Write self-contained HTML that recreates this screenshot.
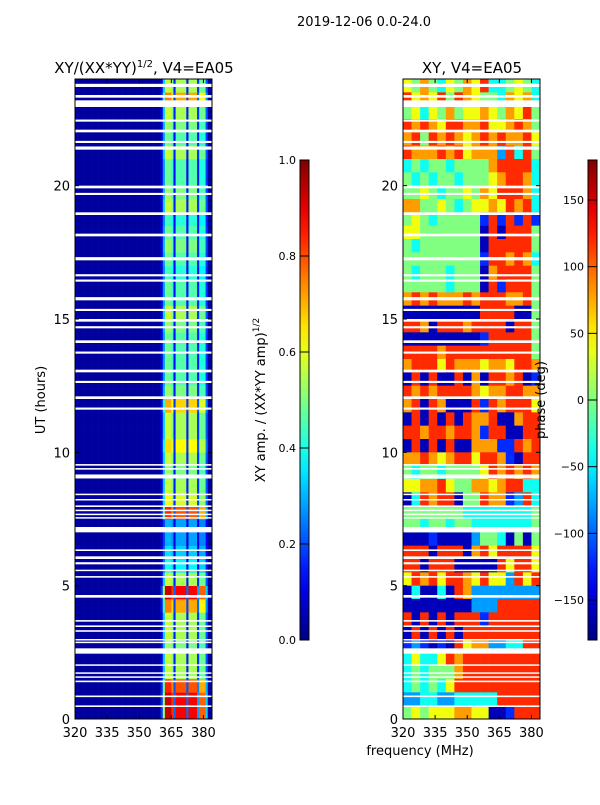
<!DOCTYPE html>
<html><head><meta charset="utf-8">
<style>
body{margin:0;background:#fff;font-family:"Liberation Sans","DejaVu Sans",sans-serif;}
svg text{font-family:"DejaVu Sans","Liberation Sans",sans-serif;}
</style></head>
<body>
<svg id="fig" width="600" height="800" xmlns="http://www.w3.org/2000/svg">
<rect x="0" y="0" width="600" height="800" fill="#fff"/>
<text x="364" y="26" font-size="13" text-anchor="middle">2019-12-06 0.0-24.0</text>
<text x="144" y="73" font-size="15" text-anchor="middle">XY/(XX*YY)<tspan font-size="10" dy="-6">1/2</tspan><tspan dy="6">, V4=EA05</tspan></text>
<text x="472" y="73" font-size="15" text-anchor="middle">XY, V4=EA05</text>
<g id="left"></g>
<g id="right"></g>
<g id="axes"></g>
<text transform="translate(45,400) rotate(-90)" font-size="13" text-anchor="middle">UT (hours)</text>
<text transform="translate(265,400) rotate(-90)" font-size="13" text-anchor="middle">XY amp. / (XX*YY amp)<tspan font-size="9" dy="-6">1/2</tspan></text>
<text transform="translate(545,400) rotate(-90)" font-size="13" text-anchor="middle">phase (deg)</text>
<text x="420" y="755" font-size="13" text-anchor="middle">frequency (MHz)</text>
</svg>
<script>
// ---- data ----
const freqTicks = [320,335,350,365,380];
const timeTicks = [0,5,10,15,20];
const ampTicks = [0.0,0.2,0.4,0.6,0.8,1.0];
const phaseTicks = [-150,-100,-50,0,50,100,150];
// amplitude: per-1MHz channel profile (320..383) and per-0.5h row level (0h upward)
const chanProfile = [0.02,0.02,0.02,0.02,0.02,0.02,0.02,0.02,0.02,0.02,0.02,0.02,0.02,0.02,0.02,0.02,0.02,0.02,0.02,0.02,
 0.02,0.02,0.02,0.02,0.02,0.02,0.02,0.02,0.02,0.02,0.02,0.02,0.02,0.02,0.02,0.02,0.02,0.02,0.02,0.02,
 0.15,0.5,0.9,0.9,0.9,0.8,0.2,0.85,0.85,0.85,0.85,0.85,0.2,0.85,0.85,0.85,0.85,0.25,0.75,0.75,0.75,0.3,0.02,0.02];
const rowLevel = [1.0,1.0,0.9,0.6,0.6,0.55,0.6,0.6,0.8,1.0,0.6,0.4,0.35,0.3,0.3,0.9,
 0.65,0.6,0.55,0.6,0.7,0.6,0.6,0.75,0.55,0.5,0.5,0.5,0.5,0.55,
 0.6,0.5,0.5,0.45,0.5,0.55,0.5,0.45,0.6,0.55,0.5,0.5,0.6,0.5,0.55,0.6,0.8,0.6];
// phase: rows of 4MHz columns, top (23.5h) to bottom (0h); digit 0..8 => -160..160 deg
const phaseRows = [
"5464354657334543","7565747654436563","4535464556546574","7676577667556764",
"6747676567676675","7666767566627374","3434434444677773","4343443444567763",
"4454344546577763","6644543455657673","4543444441717171","5544444440707774",
"4344444440777774","4444444441776763","4344434440677774","4444434440717774",
"6767666767776674","0000000007777004","7760777677770774","0000000001777774",
"7777677777777774","6777576665665776","0707007060776701","7676777765667766",
"6707600071767775","0707070766700677","7767767761770077","0707070066611767",
"6676567757761077","4344344445767676","5566754466567733","0376770447661273",
"4444444333333334","4434434433333334","0001000024430404","7770777067577775",
"7707770000075775","5767577657552757","0300307622222222","0000000022277777",
"7070707771777777","0707070777777777","1210107566223377","3533576777777777",
"3434446777777777","3434357777777777","2233223333377777","4545556655001777"];
// flagged (blank) time ranges: [start hour, duration hour]
const flags = [[23.7,0.12],[23.3,0.1],[22.95,0.25],[22.4,0.08],[22.0,0.1],[21.6,0.08],[21.35,0.12],[19.9,0.1],[19.65,0.08],
 [18.9,0.1],[18.1,0.1],[17.2,0.12],[16.6,0.08],[16.4,0.08],[15.7,0.12],[15.3,0.08],[14.9,0.1],[14.65,0.08],[14.1,0.1],
 [13.7,0.08],[13.0,0.1],[12.6,0.08],[12.0,0.1],[11.6,0.08],[9.5,0.06],[9.35,0.06],[9.02,0.15],[8.4,0.05],[8.2,0.05],
 [7.95,0.06],[7.8,0.05],[7.65,0.05],[7.52,0.05],[7.0,0.2],[6.3,0.06],[6.0,0.1],[5.8,0.08],[5.55,0.05],[5.3,0.06],
 [4.55,0.1],[3.65,0.06],[3.45,0.06],[3.27,0.06],[2.95,0.05],[2.85,0.05],[2.45,0.2],[2.0,0.05],[1.7,0.05],[1.55,0.05],
 [1.38,0.06],[0.82,0.06],[0.45,0.06]];

// ---- scales ----
const T0=719, T1=79, fMin=320, fMax=384;
const yT = t => T0 - (t/24)*(T0-T1);
const xL = f => 75 + (f-fMin)/(fMax-fMin)*137;
const xR = f => 403 + (f-fMin)/(fMax-fMin)*137;
function jet(v){v=Math.max(0,Math.min(1,v));
 const r=Math.min(1,Math.max(0,1.5-Math.abs(4*v-3))),g=Math.min(1,Math.max(0,1.5-Math.abs(4*v-2))),b=Math.min(1,Math.max(0,1.5-Math.abs(4*v-1)));
 return `rgb(${Math.round(r*255)},${Math.round(g*255)},${Math.round(b*255)})`;}
const NS='http://www.w3.org/2000/svg';
function mk(tag,attrs,parent){const e=document.createElementNS(NS,tag);for(const k in attrs)e.setAttribute(k,attrs[k]);parent.appendChild(e);return e;}

const L=document.getElementById('left'), R=document.getElementById('right'), A=document.getElementById('axes');
// amplitude cells
rowLevel.forEach((lv,r)=>{chanProfile.forEach((p,c)=>{
 const v=Math.min(1,0.03+lv*(p>0.05?p:0));
 const x0=xL(fMin+c), x1=xL(fMin+c+1), y0=yT((r+1)*0.5), y1=yT(r*0.5);
 const el=mk('rect',{x:x0,y:y0,width:x1-x0+0.3,height:y1-y0+0.3,fill:jet(v)},L);
 
 
});});
// phase cells
phaseRows.forEach((row,i)=>{const tTop=24-i*0.5;
 for(let c=0;c<row.length;c++){const d=+row[c];const ph=-160+d*40;
  const x0=xR(fMin+c*4),x1=xR(fMin+c*4+4),y0=yT(tTop),y1=yT(tTop-0.5);
  const el=mk('rect',{x:x0,y:y0,width:x1-x0+0.3,height:y1-y0+0.3,fill:jet((ph+180)/360)},R);
  
  
 }});
// flags
flags.forEach(([t,d])=>{[[75,L],[403,R]].forEach(([x0,g])=>{
 const el=mk('rect',{x:x0,y:yT(t+d),width:137,height:Math.max(1.5,yT(t)-yT(t+d)),fill:'#fff'},g);
 
 
});});
// axes frames & ticks
[[75,xL],[403,xR]].forEach(([x0,xs])=>{
 const fr=mk('rect',{x:x0,y:T1,width:137,height:T0-T1,fill:'none',stroke:'#000','stroke-width':1},A);
 
 
 freqTicks.forEach(f=>{const x=xs(f);
  mk('line',{x1:x,y1:T0,x2:x,y2:T0-4,stroke:'#000'},A);mk('line',{x1:x,y1:T1,x2:x,y2:T1+4,stroke:'#000'},A);
  const t=mk('text',{x:x,y:T0+18,'font-size':13,'text-anchor':'middle'},A);t.textContent=f;
  
  });
 timeTicks.forEach(h=>{const y=yT(h);
  mk('line',{x1:x0,y1:y,x2:x0+4,y2:y,stroke:'#000'},A);mk('line',{x1:x0+137,y1:y,x2:x0+133,y2:y,stroke:'#000'},A);
  const t=mk('text',{x:x0-5,y:y+5,'font-size':13,'text-anchor':'end'},A);t.textContent=h;
  
  });
});
// colorbars
const defs=mk('defs',{},A);const gr=mk('linearGradient',{id:'jetg',x1:0,y1:1,x2:0,y2:0},defs);
for(let i=0;i<=20;i++)mk('stop',{offset:i/20,'stop-color':jet(i/20)},gr);
function cbar(x,ticks,lo,hi,fmt,name){
 const r=mk('rect',{x:x,y:160,width:9,height:480,fill:'url(#jetg)',stroke:'#000','stroke-width':1},A);
 
 
 ticks.forEach(v=>{const y=640-(v-lo)/(hi-lo)*480;
  mk('line',{x1:x,y1:y,x2:x+9,y2:y,stroke:'#000'},A);
  const t=mk('text',{x:x-4,y:y+4,'font-size':11,'text-anchor':'end'},A);t.textContent=fmt(v);
  
  });
}
cbar(300,ampTicks,0,1,v=>v.toFixed(1),'amp-colorbar');
cbar(588,phaseTicks,-180,180,v=>v<0?'\u2212'+(-v):String(v),'phase-colorbar');
</script>
</body></html>
